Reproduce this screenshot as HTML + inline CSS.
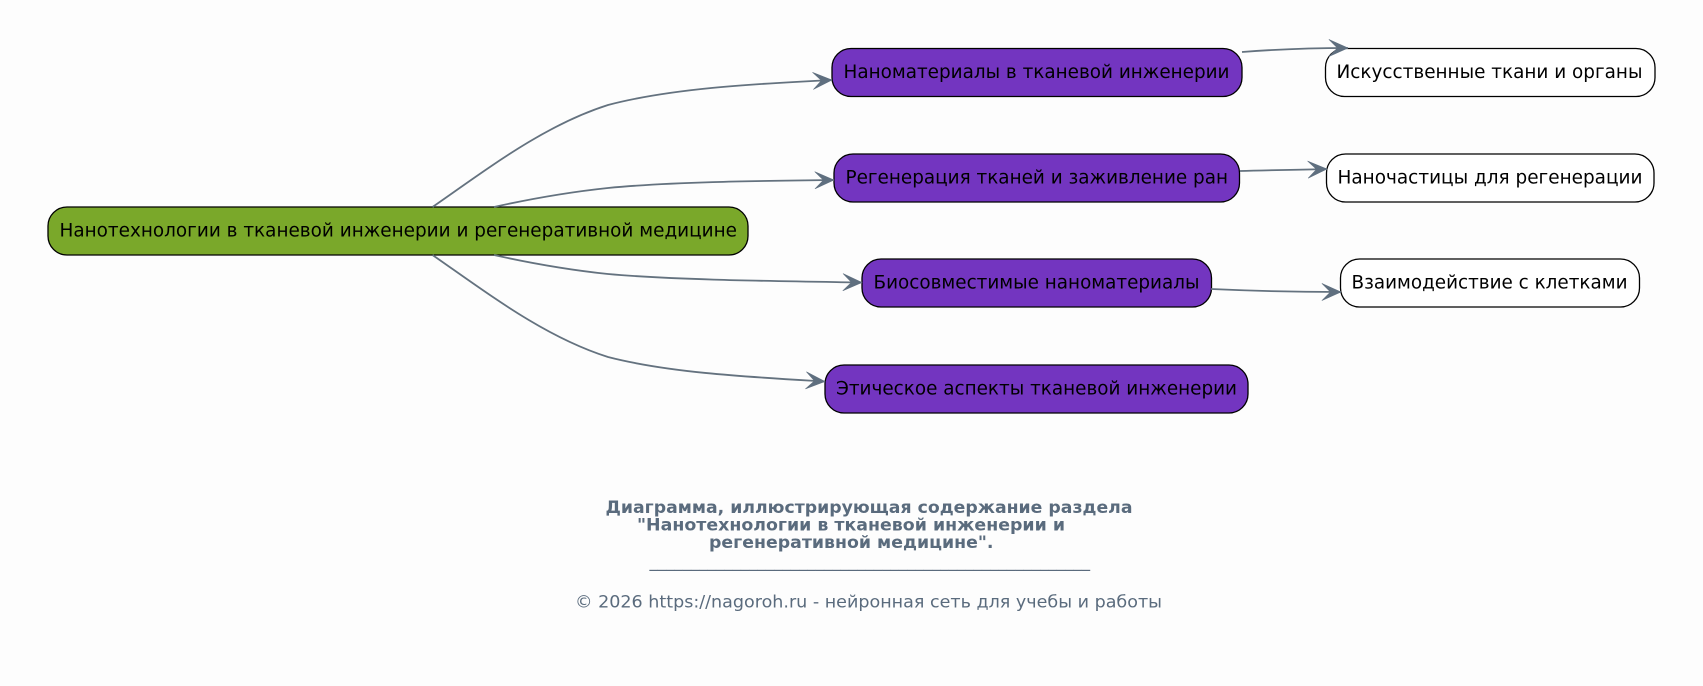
<!DOCTYPE html>
<html lang="ru"><head><meta charset="utf-8"><title>Diagram</title>
<style>
html,body{margin:0;padding:0;background:#fdfdfd;width:1703px;height:686px;overflow:hidden}
svg{display:block}
text{font-family:"DejaVu Sans","Liberation Sans",sans-serif}
.n{font-size:19px;fill:#000}
.e{fill:none;stroke:#64727f;stroke-width:1.8}
.a{fill:#5f6f7f;stroke:#5f6f7f;stroke-width:.6;stroke-linejoin:round}
.t{font-size:17px;font-weight:bold;fill:#5a6b7d}
.c{font-size:17px;fill:#5a6b7d}
</style></head><body>
<svg width="1703" height="686" viewBox="0 0 1703 686" xmlns="http://www.w3.org/2000/svg">
<defs>
<marker id="m" markerUnits="userSpaceOnUse" markerWidth="24" markerHeight="22" refX="20" refY="10" orient="auto">
<path class="a" d="M1 1.500 L20 10 L1 18.500 L9.500 10 Z"/>
</marker>
</defs>

<rect x="48" y="207" width="700" height="48" rx="19" fill="#7aa82a" stroke="#000" stroke-width="1.3"/>
<text class="n" x="59.5" y="236.500" textLength="677.5" lengthAdjust="spacingAndGlyphs">Нанотехнологии в тканевой инженерии и регенеративной медицине</text>

<rect x="832" y="48.5" width="410" height="48" rx="19" fill="#7335c0" stroke="#000" stroke-width="1.3"/>
<text class="n" x="843.5" y="78" textLength="386" lengthAdjust="spacingAndGlyphs">Наноматериалы в тканевой инженерии</text>
<rect x="834" y="154" width="405.5" height="48" rx="19" fill="#7335c0" stroke="#000" stroke-width="1.3"/>
<text class="n" x="845.5" y="183.500" textLength="382.5" lengthAdjust="spacingAndGlyphs">Регенерация тканей и заживление ран</text>
<rect x="862" y="259" width="349.500" height="48" rx="19" fill="#7335c0" stroke="#000" stroke-width="1.3"/>
<text class="n" x="873.5" y="288.500" textLength="326" lengthAdjust="spacingAndGlyphs">Биосовместимые наноматериалы</text>
<rect x="825" y="365" width="423" height="48" rx="19" fill="#7335c0" stroke="#000" stroke-width="1.3"/>
<text class="n" x="836" y="394.500" textLength="401" lengthAdjust="spacingAndGlyphs">Этическое аспекты тканевой инженерии</text>

<rect x="1325.500" y="48.5" width="329.500" height="48" rx="19" fill="#fff" stroke="#000" stroke-width="1.3"/>
<text class="n" x="1336.500" y="78" textLength="306" lengthAdjust="spacingAndGlyphs">Искусственные ткани и органы</text>
<rect x="1326.500" y="154" width="327.500" height="48" rx="19" fill="#fff" stroke="#000" stroke-width="1.3"/>
<text class="n" x="1337.500" y="183.500" textLength="305" lengthAdjust="spacingAndGlyphs">Наночастицы для регенерации</text>
<rect x="1340.500" y="259" width="299" height="48" rx="19" fill="#fff" stroke="#000" stroke-width="1.3"/>
<text class="n" x="1351.500" y="288.500" textLength="276" lengthAdjust="spacingAndGlyphs">Взаимодействие с клетками</text>

<path class="e" marker-end="url(#m)" d="M432.500 207 C490 167 545 125 608 105 C670 88.700 750 84 832 80"/>
<path class="e" marker-end="url(#m)" d="M494 207 C530 199 570 192 608 188 C670 182 750 181 834 180"/>
<path class="e" marker-end="url(#m)" d="M494 255 C530 263 570 270 608 274 C675 280 770 281 862 282.500"/>
<path class="e" marker-end="url(#m)" d="M432.500 255 C490 295 545 337 608 357 C670 373 750 377 825 381.500"/>
<path class="e" marker-end="url(#m)" d="M1242 52 C1280 49 1310 48 1348 48"/>
<path class="e" marker-end="url(#m)" d="M1240 171 C1270 170 1295 170 1327 169"/>
<path class="e" marker-end="url(#m)" d="M1211 289 C1255 291 1295 292 1341 292"/>

<text class="t" x="605.500" y="513" textLength="527" lengthAdjust="spacingAndGlyphs">Диаграмма, иллюстрирующая содержание раздела</text>
<text class="t" x="637" y="530.500" textLength="428" lengthAdjust="spacingAndGlyphs">"Нанотехнологии в тканевой инженерии и</text>
<text class="t" x="709" y="548" textLength="284.500" lengthAdjust="spacingAndGlyphs">регенеративной медицине".</text>
<text class="c" x="649.500" y="567" textLength="440.500" lengthAdjust="spacingAndGlyphs">_____________________________________________________</text>
<text class="c" x="575" y="607.500" textLength="587" lengthAdjust="spacingAndGlyphs">© 2026 https://nagoroh.ru - нейронная сеть для учебы и работы</text>
</svg>
</body></html>
